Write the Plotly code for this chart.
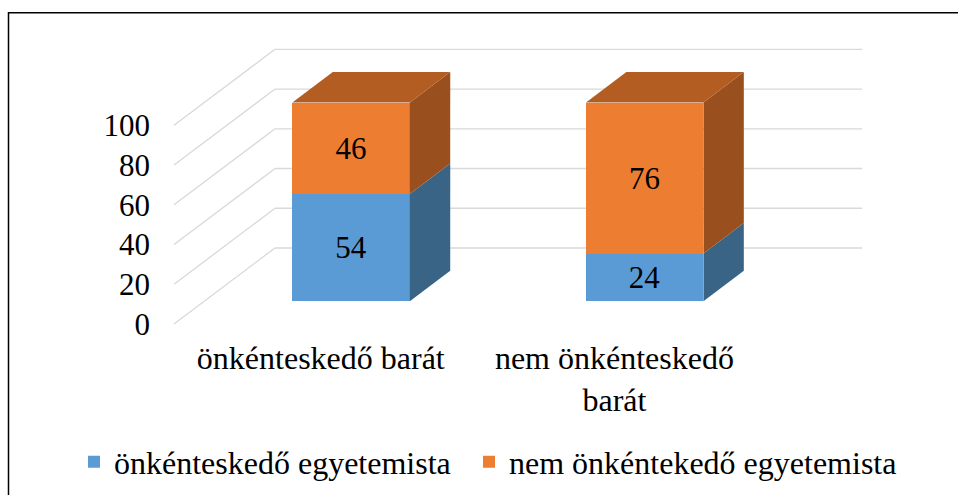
import plotly.graph_objects as go

# ---- data ----
categories = ["önkénteskedő barát", "nem önkénteskedő<br>barát"]
series_names = ["önkénteskedő egyetemista", "nem önkéntekedő egyetemista"]
volunteer_students = [54, 24]
non_volunteer_students = [46, 76]
y_ticks = [0, 20, 40, 60, 80, 100]

# ---- style ----
FONT = "Liberation Serif, Times New Roman, serif"
front_colors = ["#5B9BD5", "#ED7D31"]
side_colors = ["#3A6486", "#9A4F1E"]
top_color = "#B45D23"
grid_color = "#D9D9D9"

W, H = 958, 495
# plot area in pixels
PL, PR, PT, PB = 100, 958, 40, 330
# front-plane scale: x in category units, y in value units
X0PX, XSCALE = 174.0, 293.6
Y0PX, YSCALE = 324.0, 1.987
# full floor depth in data units
DX, DY = 101.0 / XSCALE, 76.0 / YSCALE
FRONT_FRAC, DEPTH_FRAC = 0.30, 0.40
OFF_X, OFF_Y = FRONT_FRAC * DX, FRONT_FRAC * DY
BDX, BDY = DEPTH_FRAC * DX, DEPTH_FRAC * DY
BAR_W = 0.4

xr = [(PL - X0PX) / XSCALE, (PR - X0PX) / XSCALE]
yr = [(Y0PX - PB) / YSCALE, (Y0PX - PT) / YSCALE]

positions = [i + 0.5 for i in range(len(categories))]
series = [volunteer_students, non_volunteer_students]
legend_ids = ["legend", "legend2"]

fig = go.Figure()
for name, vals, col, lg in zip(series_names, series, front_colors, legend_ids):
    fig.add_trace(go.Bar(
        x=positions, y=vals, name=name, width=BAR_W, legend=lg,
        marker=dict(color=col, line=dict(width=0)),
        text=[str(v) for v in vals], textposition="inside",
        insidetextanchor="middle", constraintext="none",
        textfont=dict(family=FONT, size=31, color="black"),
        xaxis="x2", yaxis="y2", hoverinfo="skip",
    ))

shapes = []
# side-wall and back-wall gridlines
for t in y_ticks:
    shapes.append(dict(type="line", xref="x", yref="y", x0=0, y0=t, x1=DX, y1=t + DY,
                       line=dict(color=grid_color, width=1.3), layer="below"))
    shapes.append(dict(type="line", xref="x", yref="y", x0=DX, y0=t + DY,
                       x1=len(categories) + DX, y1=t + DY,
                       line=dict(color=grid_color, width=1.3), layer="below"))

# 3D side and top faces of the bars
for i, c in enumerate(positions):
    xl, xrr = c - BAR_W / 2, c + BAR_W / 2
    base = 0
    for s, vals in enumerate(series):
        top = base + vals[i]
        path = (f"M{xrr},{base} L{xrr + BDX},{base + BDY} "
                f"L{xrr + BDX},{top + BDY} L{xrr},{top} Z")
        shapes.append(dict(type="path", xref="x2", yref="y2", path=path,
                           fillcolor=side_colors[s], line=dict(width=0), layer="above"))
        base = top
    path = (f"M{xl},{base} L{xrr},{base} L{xrr + BDX},{base + BDY} "
            f"L{xl + BDX},{base + BDY} Z")
    shapes.append(dict(type="path", xref="x2", yref="y2", path=path,
                       fillcolor=top_color, line=dict(width=0), layer="above"))


def px2paper_x(px):
    return (px - PL) / (PR - PL)


def px2paper_y(py):
    return (PB - py) / (PB - PT)


# outer chart border
shapes.append(dict(type="rect", xref="paper", yref="paper",
                   x0=px2paper_x(8.5), x1=px2paper_x(975),
                   y0=px2paper_y(510), y1=px2paper_y(12.7),
                   line=dict(color="black", width=1.5), fillcolor="rgba(0,0,0,0)"))

legend_style = dict(orientation="h", xanchor="left", yanchor="middle",
                    y=px2paper_y(462), font=dict(family=FONT, size=32, color="black"),
                    bgcolor="rgba(0,0,0,0)", borderwidth=0)

fig.update_layout(
    width=W, height=H, autosize=False,
    margin=dict(l=PL, r=W - PR, t=PT, b=H - PB, autoexpand=False),
    paper_bgcolor="white", plot_bgcolor="rgba(0,0,0,0)",
    barmode="stack", bargap=0,
    font=dict(family=FONT, size=31, color="black"),
    shapes=shapes,
    xaxis=dict(range=xr, tickvals=positions, ticktext=categories, automargin=False,
               showgrid=False, zeroline=False, showline=False, ticks="",
               ticklabelstandoff=6, tickfont=dict(family=FONT, size=32, color="black")),
    yaxis=dict(range=yr, tickvals=y_ticks, showgrid=False, zeroline=False,
               showline=False, ticks="", ticklabelstandoff=-51, automargin=False,
               tickfont=dict(family=FONT, size=31, color="black")),
    xaxis2=dict(range=[xr[0] - OFF_X, xr[1] - OFF_X], overlaying="x", anchor="y2",
                visible=False),
    yaxis2=dict(range=[yr[0] - OFF_Y, yr[1] - OFF_Y], overlaying="y", anchor="x2",
                visible=False),
    showlegend=True,
    legend=dict(x=px2paper_x(74), **legend_style),
    legend2=dict(x=px2paper_x(469), **legend_style),
)

fig.write_html("out.html", config={"displayModeBar": False},
               post_script="document.body.style.margin='0';")
